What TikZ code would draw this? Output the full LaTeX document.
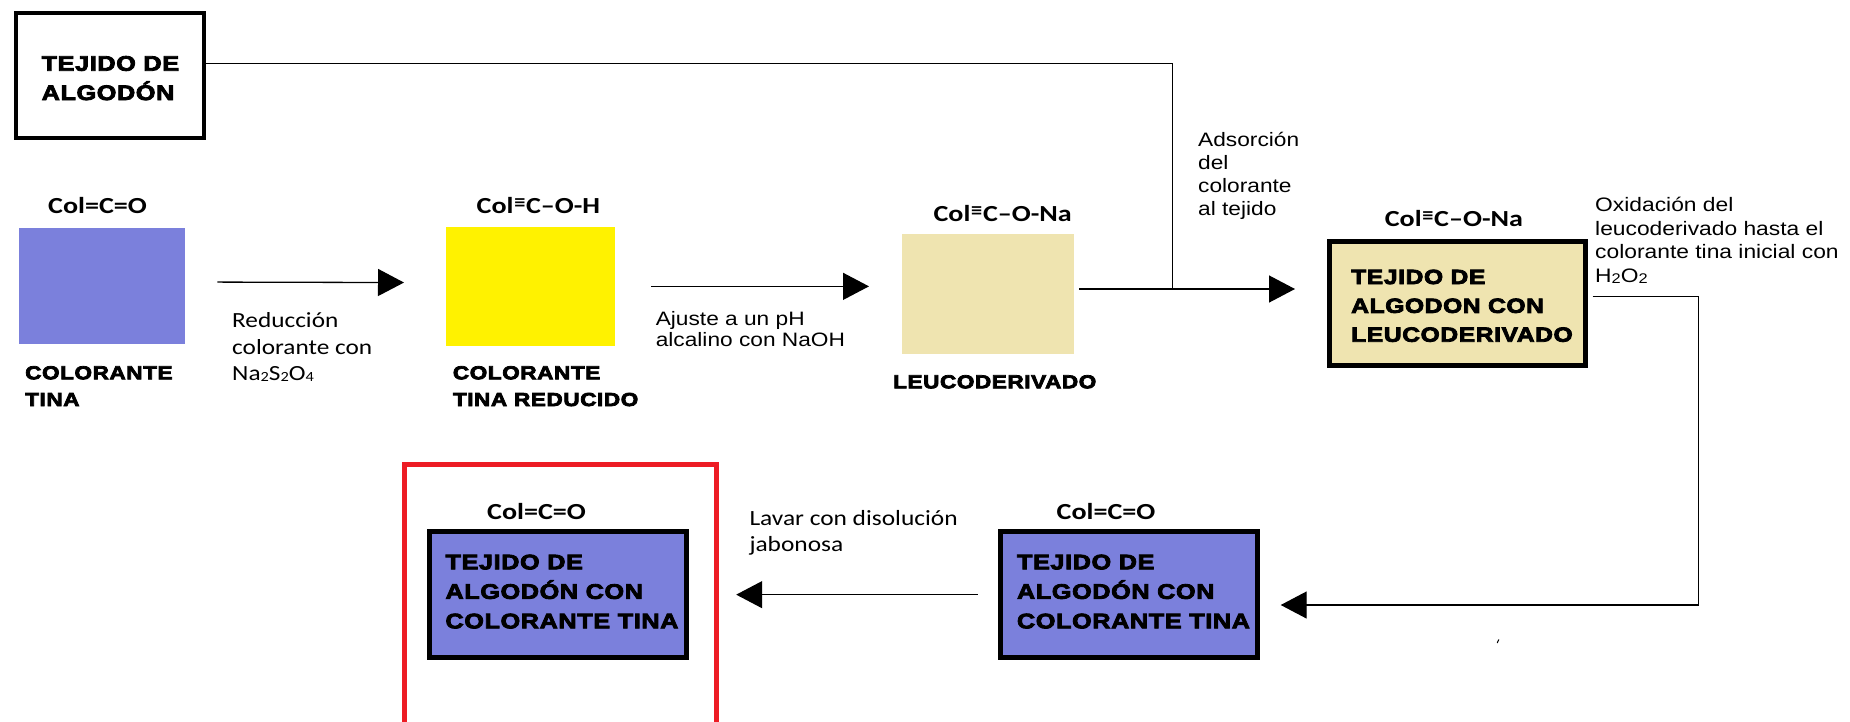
\documentclass[tikz,border=0pt]{standalone}
\usepackage{fontspec}
\setmainfont{Liberation Sans}
\newfontfamily\arrg[FakeStretch=1.17]{Liberation Sans}
\newfontfamily\arbf[FakeStretch=1.2,FakeBold=4,LetterSpace=3]{Liberation Sans}
\newfontfamily\calrg[FakeStretch=1.17]{Carlito}
\newfontfamily\calbf[FakeStretch=1.22]{Carlito}
\newfontfamily\djv{DejaVu Sans}
\usetikzlibrary{arrows.meta}
\definecolor{cblue}{HTML}{7B80DC}
\definecolor{cyellow}{HTML}{FFF200}
\definecolor{cleuco}{HTML}{EFE4B0}
\definecolor{cred}{HTML}{ED1C24}
\newcommand{\stk}[1]{\begin{tabular}[t]{@{}l@{}}#1\end{tabular}}
\newcommand{\trip}{\raisebox{6pt}{\djv\fontsize{15}{15}\selectfont ≡}}
\newcommand{\sbc}[1]{\raisebox{-1pt}{\fontsize{14}{14}\selectfont #1}}
\begin{document}
\begin{tikzpicture}[x=1pt,y=-1pt,
  conn/.style={line width=1.3pt},
  arr/.style={conn,-{Triangle[length=26pt,width=27pt]}},
  swatch/.style={inner sep=0pt,outer sep=0pt,anchor=north west},
  frame/.style={draw,line width=5pt,inner sep=0pt,outer sep=0pt,anchor=north west},
  txt/.style={inner sep=0pt,anchor=base west},
  formula/.style={txt,font=\calbf\bfseries\fontsize{23}{27}\selectfont},
  heavy/.style={txt,font=\arbf\bfseries\fontsize{18.8}{26.7}\selectfont},
  boxtext/.style={txt,font=\arbf\bfseries\fontsize{21}{29.5}\selectfont}
]
\useasboundingbox (0,0) rectangle (1850,721);

% top-left box
\node[frame,line width=4pt,minimum width=188.2pt,minimum height=125pt] (tejido) at (15.8,13) {};
\node[txt,font=\arbf\bfseries\fontsize{21}{29.3}\selectfont] (tejidotxt) at (41.5,70.7) {\stk{TEJIDO DE\\ALGODÓN}};

% swatches
\node[swatch,fill=cblue,minimum width=166.8pt,minimum height=116pt] (blue) at (18.6,227.7) {};
\node[swatch,fill=cyellow,minimum width=169pt,minimum height=119.3pt] (yellow) at (446,226.7) {};
\node[swatch,fill=cleuco,minimum width=172.4pt,minimum height=120.3pt] (leuco) at (902,234) {};

% formulas
\node[formula] (f1) at (48,213.3) {Col=C=O};
\node[formula] (f2) at (476.5,213.3) {Col\trip C–O-H};
\node[formula] (f3) at (933.4,221.7) {Col\trip C–O-Na};
\node[formula] (f4) at (1384.6,226) {Col\trip C–O-Na};
\node[formula] (f5) at (1056.5,519.3) {Col=C=O};
\node[formula] (f6) at (487,519.3) {Col=C=O};

% labels under swatches
\node[heavy] (lbl1) at (25,379.3) {\stk{COLORANTE\\TINA}};
\node[heavy] (lbl2) at (452.7,379.3) {\stk{COLORANTE\\TINA REDUCIDO}};
\node[heavy] (lbl3) at (893,388.3) {LEUCODERIVADO};

% step notes
\node[txt,font=\calrg\fontsize{21.6}{26.3}\selectfont] (reduc) at (232,327.7) {\stk{Reducción\\colorante con\\Na\sbc{2}S\sbc{2}O\sbc{4}}};
\node[txt,font=\arrg\fontsize{19.4}{21.7}\selectfont] (ajuste) at (655.6,325) {\stk{Ajuste a un pH\\alcalino con NaOH}};
\node[txt,font=\arrg\fontsize{19.4}{23}\selectfont] (adsor) at (1198,146) {\stk{Adsorción\\del\\colorante\\al tejido}};
\node[txt,font=\arrg\fontsize{19.5}{23.5}\selectfont] (oxid) at (1595,211.7) {\stk{Oxidación del\\leucoderivado hasta el\\colorante tina inicial con\\H\sbc{2}O\sbc{2}}};
\node[txt,font=\calrg\fontsize{21.7}{26}\selectfont] (lavar) at (749.3,525) {\stk{Lavar con disolución\\jabonosa}};

% framed boxes
\node[frame,fill=cleuco,minimum width=256pt,minimum height=124pt] (tlb) at (1329.5,241.8) {};
\node[txt,font=\arbf\bfseries\fontsize{20.5}{28.85}\selectfont] (tlbtxt) at (1351,284) {\stk{TEJIDO DE\\ALGODON CON\\LEUCODERIVADO}};
\node[frame,fill=cblue,minimum width=256.7pt,minimum height=125.7pt] (rbox) at (1000.5,531.8) {};
\node[boxtext] (rboxtxt) at (1016.8,569.3) {\stk{TEJIDO DE\\ALGODÓN CON\\COLORANTE TINA}};
\node[frame,draw=cred,minimum width=311.4pt,minimum height=262pt] (final) at (404.9,464.2) {};
\node[frame,fill=cblue,minimum width=257pt,minimum height=125.7pt] (lbox) at (429.5,531.8) {};
\node[boxtext] (lboxtxt) at (445.3,569.3) {\stk{TEJIDO DE\\ALGODÓN CON\\COLORANTE TINA}};

% connectors
\coordinate (tc) at (1172.7,63.3);
\coordinate (jn) at (1172.7,289);
\coordinate (c1) at (1698.8,296.7);
\coordinate (c2) at (1698.8,605);

\draw[arr,shorten <=32pt,shorten >=42pt] ([yshift=3.7pt]blue.east) -- ([yshift=3.7pt]yellow.west);
\draw[arr,shorten <=36pt,shorten >=33pt] (yellow.east) -- (yellow.east -| leuco.west);
\draw[conn] (tejido.east |- tc) -- (tc) -- (jn);
\draw[arr,shorten <=4.6pt,shorten >=34.5pt] (leuco.east |- jn) -- (jn -| tlb.west);
\draw[arr,shorten <=7pt,shorten >=23.5pt] (tlb.east |- c1) -- (c1) -- (c2) -- (c2 -| rbox.east);
\draw[arr,shorten <=22.8pt,shorten >=19.9pt] (rbox.west) -- (rbox.west -| final.east);

% small stray mark
\draw[line width=1pt] (1497.2,643) -- (1498.8,639.5);
\end{tikzpicture}
\end{document}
